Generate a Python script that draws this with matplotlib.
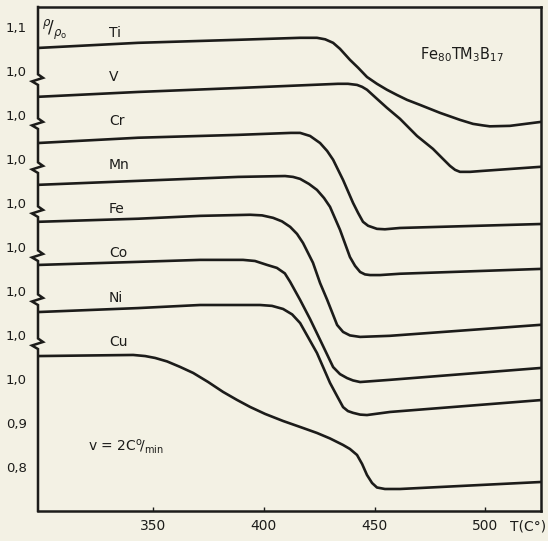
import matplotlib
matplotlib.use("Agg")
import matplotlib.pyplot as plt
import matplotlib.transforms as mtransforms

# ---- data (T in °C, rho/rho0 relative values) ----
names = ["Ti", "V", "Cr", "Mn", "Fe", "Co", "Ni", "Cu"]
offsets = [0.7, 0.6, 0.5, 0.4, 0.3, 0.2, 0.1, 0.0]

T_Ti = [298.1, 343.2, 388.4, 416.4, 424.0, 427.7, 431.3, 434.4, 438.9, 442.6, 446.6, 451.1,
        455.6, 460.2, 464.7, 470.5, 479.6, 488.6, 494.5, 499.0, 502.1, 511.2, 525.2]
R_Ti = [1.052, 1.0636, 1.0705, 1.075, 1.075, 1.0716, 1.0636, 1.050, 1.025, 1.007, 0.986, 0.9705,
        0.957, 0.945, 0.934, 0.9227, 0.9045, 0.8886, 0.8795, 0.876, 0.8739, 0.875, 0.884]

T_V = [298.1, 343.2, 388.4, 433.5, 438.0, 442.1, 444.4, 446.6, 451.1, 455.6, 461.5, 469.2,
       476.4, 480.9, 484.1, 486.4, 488.6, 493.2, 499.0, 525.2]
R_V = [1.041, 1.052, 1.061, 1.0705, 1.0705, 1.068, 1.0636, 1.057, 1.0364, 1.016, 0.991, 0.952,
       0.9227, 0.900, 0.884, 0.875, 0.8705, 0.8705, 0.8727, 0.882]

T_Cr = [298.1, 343.2, 388.4, 412.3, 416.4, 420.9, 425.4, 428.6, 431.3, 435.8, 440.3, 442.6,
        444.8, 447.1, 451.1, 454.7, 461.5, 525.2]
R_Cr = [1.036, 1.048, 1.0545, 1.059, 1.059, 1.052, 1.036, 1.018, 0.998, 0.952, 0.900, 0.877,
        0.857, 0.848, 0.841, 0.840, 0.843, 0.852]

T_Mn = [298.1, 343.2, 388.4, 409.6, 413.2, 416.4, 420.4, 424.0, 427.2, 429.9, 434.4, 438.9,
        441.2, 443.5, 445.7, 448.0, 452.5, 461.5, 525.2]
R_Mn = [1.041, 1.050, 1.059, 1.061, 1.059, 1.0545, 1.043, 1.0295, 1.011, 0.991, 0.939, 0.877,
        0.857, 0.843, 0.8375, 0.836, 0.836, 0.839, 0.850]

T_Fe = [298.1, 343.2, 371.2, 393.8, 399.2, 404.2, 408.2, 411.9, 415.0, 417.7, 422.2, 425.4,
        428.6, 433.1, 435.8, 438.9, 443.5, 457.0, 525.2]
R_Fe = [1.057, 1.064, 1.0705, 1.073, 1.0716, 1.066, 1.058, 1.0455, 1.0295, 1.009, 0.964, 0.918,
        0.880, 0.8227, 0.8068, 0.7989, 0.7955, 0.798, 0.823]

T_Co = [298.1, 343.2, 371.2, 390.6, 396.0, 401.5, 405.9, 409.5, 411.9, 416.4, 420.9, 425.4,
        431.3, 434.4, 437.6, 440.3, 443.5, 457.0, 525.2]
R_Co = [1.059, 1.066, 1.0705, 1.0705, 1.068, 1.059, 1.0523, 1.0398, 1.0205, 0.9795, 0.936, 0.889,
        0.827, 0.811, 0.802, 0.7966, 0.793, 0.798, 0.825]

T_Ni = [298.1, 343.2, 371.2, 398.3, 403.7, 408.7, 412.8, 416.4, 424.0, 429.9, 433.1, 435.8,
        438.0, 440.3, 443.5, 446.6, 457.0, 525.2]
R_Ni = [1.052, 1.061, 1.068, 1.068, 1.066, 1.059, 1.0466, 1.027, 0.959, 0.891, 0.861, 0.836,
        0.827, 0.823, 0.819, 0.818, 0.825, 0.852]

T_Cu = [298.1, 341.0, 346.4, 350.9, 356.3, 362.2, 368.1, 374.8, 381.6, 387.9, 393.8, 400.6,
        408.7, 417.7, 424.0, 429.9, 435.8, 438.9, 442.1, 444.4, 446.6, 448.9, 451.1, 454.7,
        461.5, 525.2]
R_Cu = [1.052, 1.0545, 1.052, 1.0477, 1.0398, 1.0273, 1.0136, 0.9932, 0.9705, 0.9523, 0.9364,
        0.9205, 0.9045, 0.8886, 0.8773, 0.8648, 0.850, 0.8409, 0.8273, 0.8068, 0.7818, 0.7636,
        0.7534, 0.750, 0.750, 0.7659]

series_T = [T_Ti, T_V, T_Cr, T_Mn, T_Fe, T_Co, T_Ni, T_Cu]
series_R = [R_Ti, R_V, R_Cr, R_Mn, R_Fe, R_Co, R_Ni, R_Cu]

x_ticks = [350, 400, 450, 500]
y_tick_pos = [1.8, 1.7, 1.6, 1.5, 1.4, 1.3, 1.2, 1.1, 1.0, 0.9, 0.8]
y_tick_lab = ["1,1", "1,0", "1,0", "1,0", "1,0", "1,0", "1,0", "1,0", "1,0", "0,9", "0,8"]

# ---- figure ----
paper = "#f3f1e4"
ink = "#1c1c1a"
fig = plt.figure(figsize=(5.48, 5.41), dpi=100, facecolor=paper)
ax = fig.add_axes([38 / 548, 30 / 541, 503 / 548, 504 / 541], facecolor=paper)

for T, R, off in zip(series_T, series_R, offsets):
    ax.plot(T, [r + off for r in R], color=ink, lw=1.9, solid_capstyle="round",
            solid_joinstyle="round", antialiased=True)

ax.set_xlim(298.0, 525.2)
ax.set_ylim(0.70, 1.845)

# labels for curves
for name, off in zip(names, offsets):
    ax.text(330.0, off + 1.085, name, fontsize=10, color=ink, ha="left", va="center")

ax.text(470.5, 1.736, r"Fe$_{80}$TM$_3$B$_{17}$", fontsize=10.5, color=ink,
        ha="left", va="center")
ax.text(320.5, 0.845, r"v = 2C$^{\rm o}\!$/$_{\rm min}$", fontsize=10, color=ink,
        ha="left", va="center")
ax.text(0.008, 1.792, r"$^{\rho}\!/_{\rho_{\rm o}}$", fontsize=12, color=ink,
        ha="left", va="center", transform=mtransforms.blended_transform_factory(ax.transAxes, ax.transData))

# ticks
ax.set_xticks(x_ticks)
ax.set_xticklabels([str(v) for v in x_ticks])
ax.set_yticks(y_tick_pos)
ax.set_yticklabels(y_tick_lab)
ax.tick_params(axis="x", direction="in", length=3, width=1, pad=6, labelsize=10,
               colors=ink)
ax.tick_params(axis="y", direction="in", length=0, pad=8, labelsize=9.5, colors=ink)
ax.text(519.5, 0.70, "T(C°)", fontsize=10, color=ink, ha="center", va="top",
        transform=ax.transData + mtransforms.ScaledTranslation(0, -6 / 72, fig.dpi_scale_trans))

# spines
for s in ["top", "right", "bottom"]:
    ax.spines[s].set_linewidth(1.8)
    ax.spines[s].set_color(ink)
ax.spines["left"].set_visible(False)

# left spine with zigzag breaks
trans = mtransforms.blended_transform_factory(ax.transAxes, ax.transData)
xs = [0.0]
ys = [1.845]
d = 0.008
for off in offsets[:-1]:
    yc = 0.98 + off
    xs += [0.0, 0.010, -0.012, 0.0]
    ys += [yc + 1.5 * d, yc + 0.5 * d, yc - 0.5 * d, yc - 1.5 * d]
xs.append(0.0)
ys.append(0.70)
ax.plot(xs, ys, color=ink, lw=1.8, transform=trans, clip_on=False,
        solid_joinstyle="miter")

fig.savefig("out.png", dpi=100, facecolor=paper)
